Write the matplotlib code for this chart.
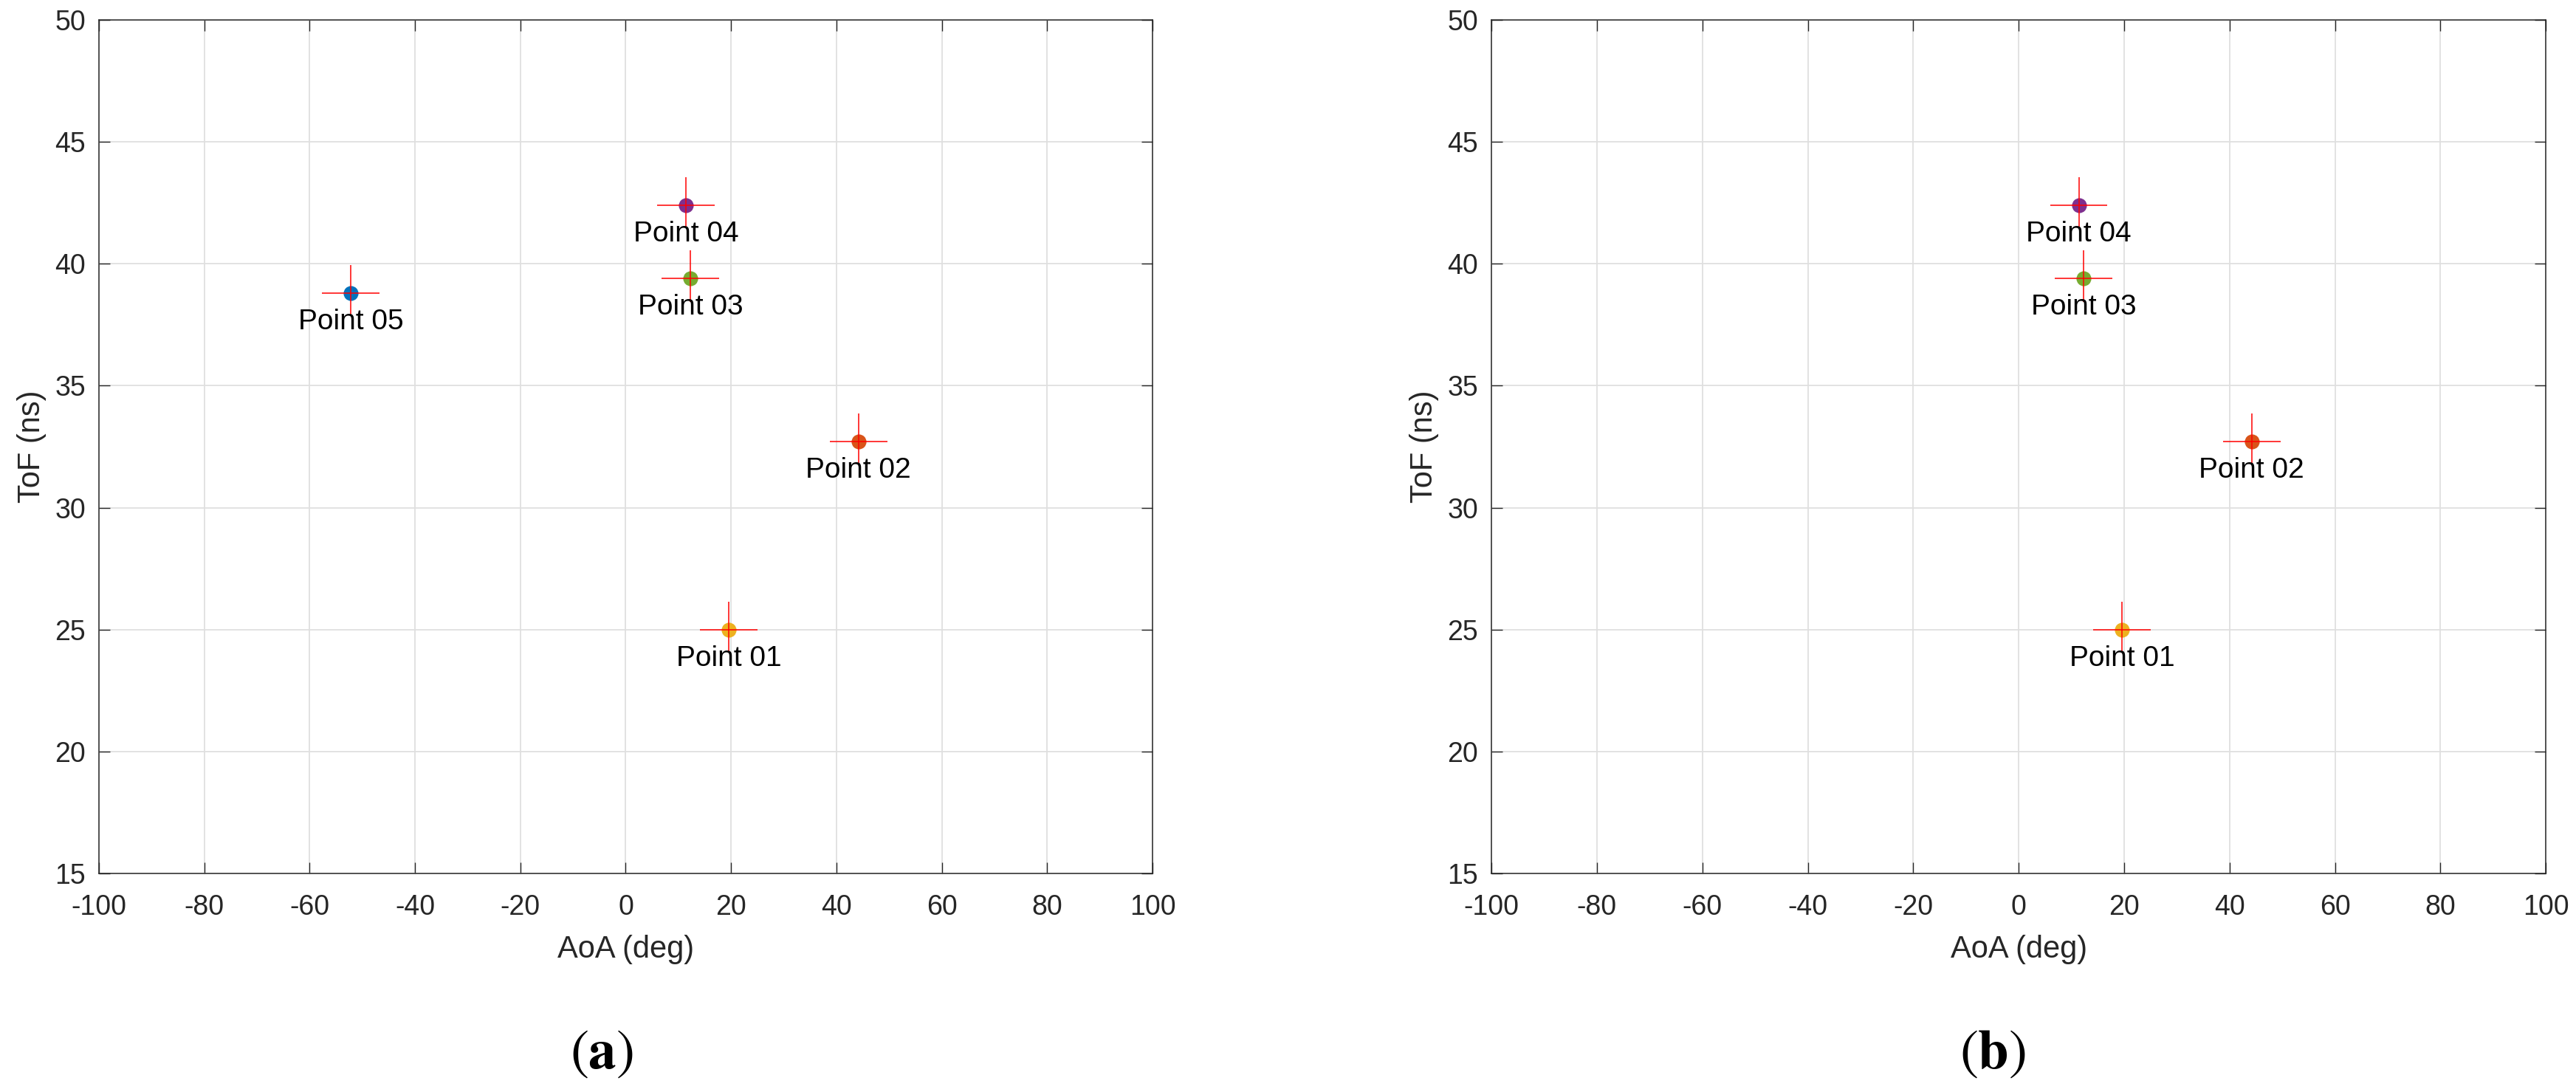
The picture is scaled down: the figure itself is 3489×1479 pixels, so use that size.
import matplotlib.pyplot as plt

plt.rcParams['font.family'] = ['Liberation Sans', 'DejaVu Sans']
plt.rcParams['axes.unicode_minus'] = False
plt.rcParams['mathtext.fontset'] = 'stix'

# measured points (AoA in deg, ToF in ns)
names = ['Point 01', 'Point 02', 'Point 03', 'Point 04', 'Point 05']
aoa = [19.6, 44.2, 12.3, 11.4, -52.2]
tof = [25.0, 32.7, 39.4, 42.4, 38.8]
colors = ['#EDB120', '#D95319', '#77AC30', '#7E2F8E', '#0072BD']

# error bars
aoa_err = 5.45
tof_err_low = 0.95
tof_err_high = 1.15

# which points are shown in each panel
panels = [[0, 1, 2, 3, 4], [0, 1, 2, 3]]
captions = [r'$(\mathbf{a})$', r'$(\mathbf{b})$']

dark = '#262626'

fig = plt.figure(figsize=(34.89, 14.79), dpi=100)
ax_pos = [[0.0384, 0.2001, 0.409, 0.7816], [0.579, 0.2001, 0.4093, 0.7816]]
cap_x = [0.2336, 0.7736]

for k, idx in enumerate(panels):
    ax = fig.add_axes(ax_pos[k])
    for i in idx:
        ax.plot(aoa[i], tof[i], 'o', color=colors[i], markersize=13.5, zorder=3)
        ax.errorbar(aoa[i], tof[i], xerr=aoa_err,
                    yerr=[[tof_err_low], [tof_err_high]],
                    fmt='none', ecolor='#FF0000', elinewidth=1.1, capsize=0, zorder=4)
        ax.annotate(names[i], (aoa[i], tof[i]), xytext=(0, -15),
                    textcoords='offset points', ha='center', va='top',
                    fontsize=28, color='black', zorder=5)

    ax.set_xlim(-100, 100)
    ax.set_ylim(15, 50)
    ax.set_xticks(range(-100, 101, 20))
    ax.set_yticks(range(15, 51, 5))
    ax.grid(True, color='#DFDFDF', linewidth=1.3)
    ax.set_axisbelow(True)
    ax.tick_params(direction='in', length=11, width=1, top=True, right=True,
                   labelsize=27, colors=dark, pad=13)
    ax.tick_params(axis='x', pad=20)
    for s in ax.spines.values():
        s.set_color(dark)
        s.set_linewidth(1.1)
    ax.set_xlabel('AoA (deg)', fontsize=30, color=dark, labelpad=14)
    ax.set_ylabel('ToF (ns)', fontsize=30, color=dark, labelpad=8)

    fig.text(cap_x[k], 0.035, captions[k], ha='center', va='center',
             fontsize=54, color='black')

fig.savefig('out.png', dpi=100)
